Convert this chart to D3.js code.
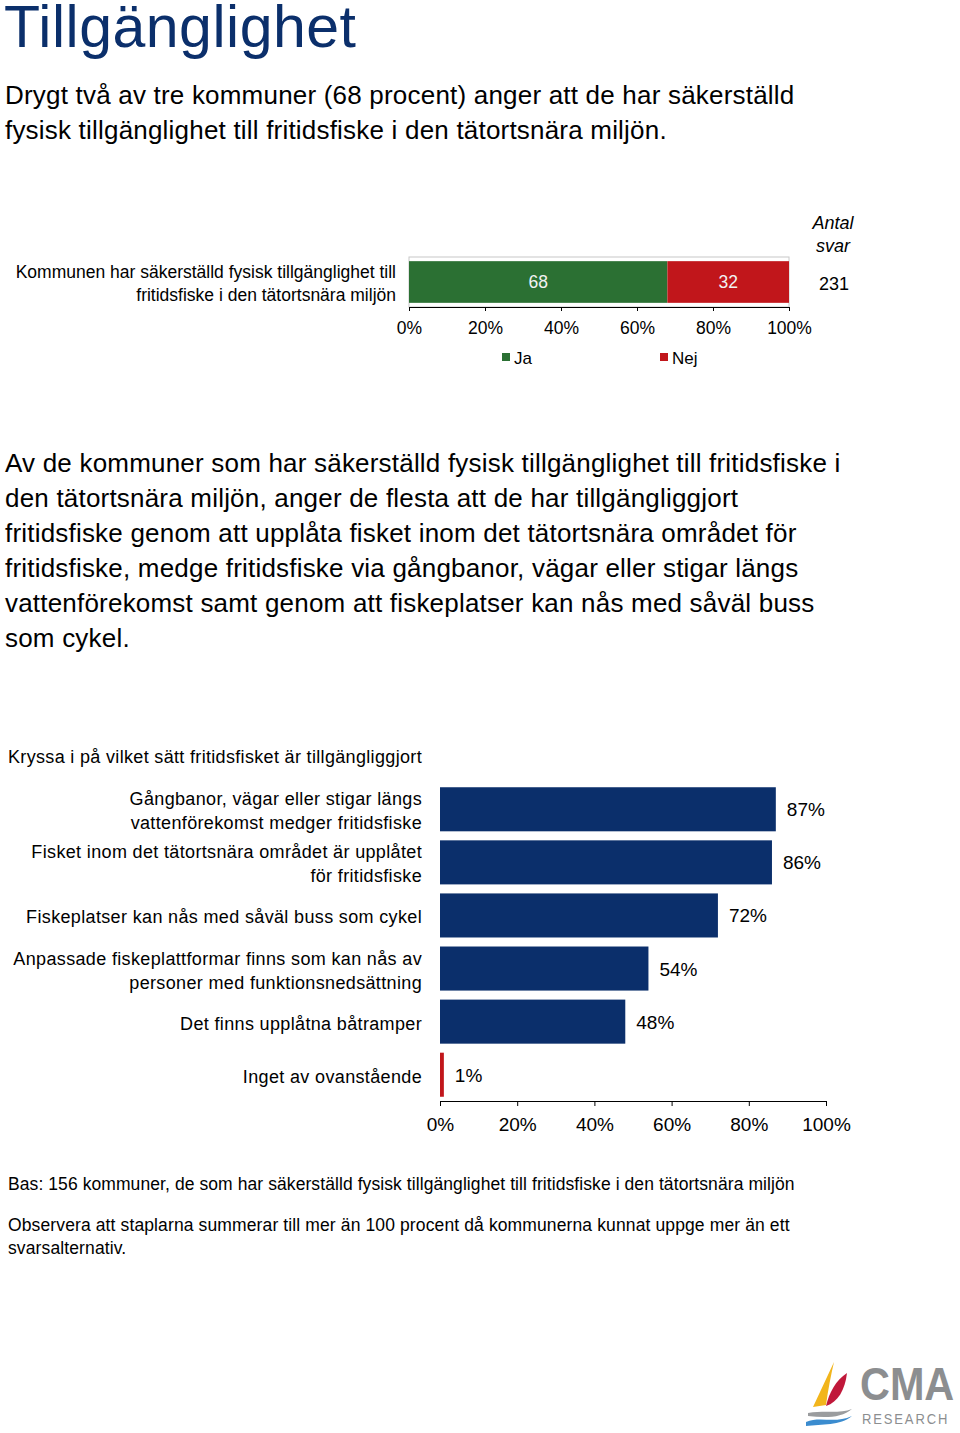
<!DOCTYPE html>
<html><head><meta charset="utf-8">
<script src="https://cdn.jsdelivr.net/npm/d3@7"></script>
<style>
body{margin:0;background:#fff;}
svg{display:block;font-family:"Liberation Sans",Arial,sans-serif;}
</style></head>
<body>
<script>
// ---------- data ----------
const titleText = "Tillgänglighet";
const intro1 = ["Drygt två av tre kommuner (68 procent) anger att de har säkerställd",
                "fysisk tillgänglighet till fritidsfiske i den tätortsnära miljön."];
const topLabelLines = ["Kommunen har säkerställd fysisk tillgänglighet till",
                       "fritidsfiske i den tätortsnära miljön"];
const topSeries = ["Ja", "Nej"];
const topValues = [68, 32];
const topN = 231;
const tickValues = [0, 20, 40, 60, 80, 100];

const intro2 = ["Av de kommuner som har säkerställd fysisk tillgänglighet till fritidsfiske i",
                "den tätortsnära miljön, anger de flesta att de har tillgängliggjort",
                "fritidsfiske genom att upplåta fisket inom det tätortsnära området för",
                "fritidsfiske, medge fritidsfiske via gångbanor, vägar eller stigar längs",
                "vattenförekomst samt genom att fiskeplatser kan nås med såväl buss",
                "som cykel."];
const question = "Kryssa i på vilket sätt fritidsfisket är tillgängliggjort";
const categories = [
  ["Gångbanor, vägar eller stigar längs", "vattenförekomst medger fritidsfiske"],
  ["Fisket inom det tätortsnära området är upplåtet", "för fritidsfiske"],
  ["Fiskeplatser kan nås med såväl buss som cykel"],
  ["Anpassade fiskeplattformar finns som kan nås av", "personer med funktionsnedsättning"],
  ["Det finns upplåtna båtramper"],
  ["Inget av ovanstående"]
];
const values = [87, 86, 72, 54, 48, 1];
const footnotes = ["Bas: 156 kommuner, de som har säkerställd fysisk tillgänglighet till fritidsfiske i den tätortsnära miljön"];
const note2 = ["Observera att staplarna summerar till mer än 100 procent då kommunerna kunnat uppge mer än ett",
               "svarsalternativ."];

// ---------- drawing ----------
const W = 960, H = 1433;
const svg = d3.select("body").append("svg").attr("width", W).attr("height", H);
const navy = "#0b2f6b", green = "#2b7033", red = "#c1161b";

svg.append("text").attr("x", 4).attr("y", 47).attr("font-size", 59).attr("letter-spacing", 0.5)
  .attr("fill", "#0b2f6b").text(titleText);

intro1.forEach((t, i) => svg.append("text").attr("x", 5).attr("y", 104 + i * 35)
  .attr("font-size", 26).attr("letter-spacing", 0.2).attr("fill", "#000").text(t));

// ---- top stacked chart ----
const xTop = d3.scaleLinear().domain([0, 100]).range([409, 789]);
const topBand = d3.scaleBand().domain(["r"]).range([257, 307]).paddingInner(0).paddingOuter(0.1);
const gTop = svg.append("g");
gTop.append("rect").attr("x", xTop(0)).attr("y", 257).attr("width", xTop(100) - xTop(0))
  .attr("height", 50).attr("fill", "none").attr("stroke", "#c8c8c8").attr("stroke-width", 1);

const stackData = [Object.fromEntries(topSeries.map((s, i) => [s, topValues[i]]))];
const stacked = d3.stack().keys(topSeries)(stackData);
const topColor = d3.scaleOrdinal().domain(topSeries).range([green, red]);
stacked.forEach(layer => {
  const d = layer[0];
  gTop.append("rect").attr("x", xTop(d[0])).attr("y", topBand("r"))
    .attr("width", xTop(d[1]) - xTop(d[0])).attr("height", topBand.bandwidth())
    .attr("fill", topColor(layer.key));
  gTop.append("text").attr("x", (xTop(d[0]) + xTop(d[1])) / 2).attr("y", topBand("r") + topBand.bandwidth() / 2 + 6)
    .attr("text-anchor", "middle").attr("font-size", 17.5).attr("fill", "#f2f2f2")
    .text(d.data[layer.key]);
});

const axTop = gTop.append("g").attr("transform", "translate(0,307)")
  .call(d3.axisBottom(xTop).tickValues(tickValues).tickFormat(d => d + "%").tickSize(4).tickSizeOuter(0));
axTop.select(".domain").attr("stroke", "#000");
axTop.selectAll(".tick line").attr("stroke", "#000");
axTop.selectAll("text").attr("font-size", 17.5).attr("font-family", "Liberation Sans, Arial, sans-serif")
  .attr("fill", "#000").attr("dy", 0).attr("y", 27);

topLabelLines.forEach((t, i) => svg.append("text").attr("x", 396).attr("y", 278 + i * 23)
  .attr("text-anchor", "end").attr("font-size", 17.5).attr("fill", "#000").text(t));

svg.append("text").attr("x", 833).attr("y", 229).attr("text-anchor", "middle")
  .attr("font-size", 18).attr("font-style", "italic").text("Antal");
svg.append("text").attr("x", 833).attr("y", 252).attr("text-anchor", "middle")
  .attr("font-size", 18).attr("font-style", "italic").text("svar");
svg.append("text").attr("x", 834).attr("y", 290).attr("text-anchor", "middle")
  .attr("font-size", 18).text(topN);

// legend
const legX = d3.scaleOrdinal().domain(topSeries).range([502, 660]);
topSeries.forEach(s => {
  svg.append("rect").attr("x", legX(s)).attr("y", 353).attr("width", 8).attr("height", 8).attr("fill", topColor(s));
  svg.append("text").attr("x", legX(s) + 12).attr("y", 364).attr("font-size", 17).text(s);
});

intro2.forEach((t, i) => svg.append("text").attr("x", 5).attr("y", 472 + i * 35)
  .attr("font-size", 26).attr("letter-spacing", 0.2).attr("fill", "#000").text(t));

// ---- bottom bar chart ----
svg.append("text").attr("x", 8).attr("y", 763).attr("font-size", 18).attr("letter-spacing", 0.33).text(question);

const x = d3.scaleLinear().domain([0, 100]).range([440, 826]);
const y = d3.scaleBand().domain(d3.range(categories.length)).range([783, 1101]).paddingInner(0.17).paddingOuter(0.08);
const g = svg.append("g");
values.forEach((v, i) => {
  g.append("rect").attr("x", x(0)).attr("y", y(i)).attr("width", x(v) - x(0))
    .attr("height", y.bandwidth()).attr("fill", i === values.length - 1 ? red : navy);
  g.append("text").attr("x", x(v) + 11).attr("y", y(i) + y.bandwidth() / 2 + 7)
    .attr("font-size", 19).text(v + "%");
  const lines = categories[i];
  const cy = y(i) + y.bandwidth() / 2;
  lines.forEach((t, j) => g.append("text").attr("x", 422)
    .attr("y", cy + 8 + (j - (lines.length - 1) / 2) * 24)
    .attr("text-anchor", "end").attr("font-size", 18).attr("letter-spacing", 0.35).text(t));
});
const ax = g.append("g").attr("transform", "translate(0,1101)")
  .call(d3.axisBottom(x).tickValues(tickValues).tickFormat(d => d + "%").tickSize(5).tickSizeOuter(0));
ax.select(".domain").attr("stroke", "#000");
ax.selectAll(".tick line").attr("stroke", "#000");
ax.selectAll("text").attr("font-size", 19).attr("font-family", "Liberation Sans, Arial, sans-serif")
  .attr("fill", "#000").attr("dy", 0).attr("y", 30);

footnotes.forEach((t, i) => svg.append("text").attr("x", 8).attr("y", 1190).attr("font-size", 17.5).attr("letter-spacing", 0.08).text(t));
note2.forEach((t, i) => svg.append("text").attr("x", 8).attr("y", 1231 + i * 23).attr("font-size", 17.5).attr("letter-spacing", 0.12).text(t));

// ---- logo ----
const logo = svg.append("g");
logo.append("path").attr("d", "M834,1362 L813,1407 L826,1405 C828,1390 831,1375 834,1362 Z").attr("fill", "#f2b51c");
logo.append("path").attr("d", "M847,1373 C845,1390 838,1402 826,1406 C829,1393 836,1380 847,1373 Z").attr("fill", "#c0183a");
logo.append("path").attr("d", "M808,1413 C825,1410 840,1414 852,1409 C842,1418 825,1418 808,1416 Z").attr("fill", "#9a9c9e");
logo.append("path").attr("d", "M806,1422 C820,1416 835,1424 852,1416 C840,1426 822,1424 806,1426 Z").attr("fill", "#3b8ccf");
logo.append("text").attr("transform", "translate(860,1400) scale(0.9,1)").attr("font-size", 46).attr("font-weight", "bold")
  .attr("fill", "#8c8e90").text("CMA");
logo.append("text").attr("transform", "translate(862,1424) scale(0.93,1)").attr("font-size", 14).attr("fill", "#8c8e90")
  .attr("letter-spacing", 2).text("RESEARCH");
</script>
</body></html>
